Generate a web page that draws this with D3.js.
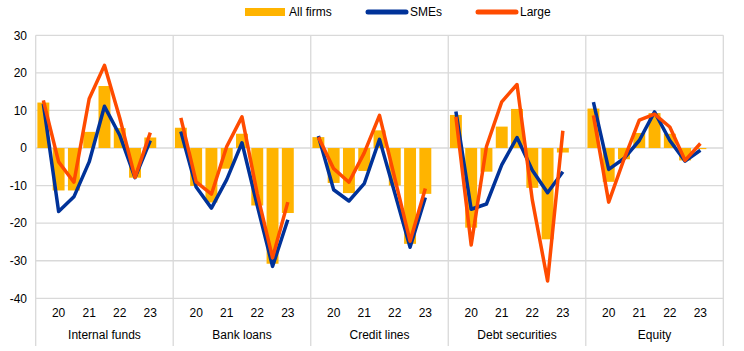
<!DOCTYPE html>
<html>
<head>
<meta charset="utf-8">
<script src="https://cdn.jsdelivr.net/npm/d3@7/dist/d3.min.js"></script>
<style>
  html, body { margin: 0; padding: 0; background: #fff; }
  svg { display: block; font-family: "Liberation Sans", Arial, sans-serif; }
</style>
</head>
<body>
<svg id="chart" width="744" height="351"></svg>
<script>
const categories = ["Internal funds", "Bank loans", "Credit lines", "Debt securities", "Equity"];
const periods = ["19H2", "20H1", "20H2", "21H1", "21H2", "22H1", "22H2", "23H1", "gap"];
const periodLabels = ["", "20", "", "21", "", "22", "", "23", ""];
const yTicks = [30, 20, 10, 0, -10, -20, -30, -40];

const allFirms = [
  [12.1, -11.3, -11.3, 4.3, 16.5, 5.3, -7.9, 2.8],
  [5.4, -10.1, -14.5, -5.5, 3.8, -15.3, -30.8, -17.3],
  [2.9, -9.3, -12.0, -6.1, 4.7, -10.0, -25.5, -12.2],
  [8.8, -21.2, -6.3, 5.7, 10.4, -10.6, -24.3, -1.2],
  [10.5, -9.0, -3.0, 4.0, 9.3, 3.8, -3.3, -0.3]
];
const smes = [
  [11.8, -16.9, -13.0, -3.7, 11.1, 3.4, -7.9, 2.0],
  [4.4, -10.4, -16.0, -8.4, 1.4, -15.3, -31.5, -19.1],
  [3.2, -11.1, -14.1, -9.5, 2.3, -12.0, -26.4, -13.2],
  [9.7, -16.3, -14.9, -4.5, 2.8, -5.9, -11.9, -6.3],
  [12.2, -5.7, -2.8, 2.0, 9.6, 2.0, -3.5, -0.6]
];
const large = [
  [12.7, -3.7, -9.1, 13.1, 22.0, 8.0, -7.8, 4.1],
  [8.0, -9.0, -12.3, 0.4, 8.3, -12.2, -29.2, -14.4],
  [2.9, -5.5, -9.1, -1.3, 8.7, -8.0, -24.8, -10.8],
  [8.3, -25.8, 0.4, 12.3, 16.9, -13.8, -35.4, 4.6],
  [8.7, -14.4, -3.0, 7.4, 9.0, 5.6, -3.3, 1.2]
];
const seriesNames = ["All firms", "SMEs", "Large"];
const colors = { "All firms": "#FFB400", "SMEs": "#003299", "Large": "#FF4B00" };

const svg = d3.select("#chart");
const plot = { left: 35.7, right: 723.3, top: 35.3, bottom: 298.3 };
const grid = "#d9d9d9";

const y = d3.scaleLinear().domain([-40, 30]).range([plot.bottom, plot.top]);
const xPanel = d3.scaleBand().domain(categories).range([plot.left, plot.right]);
const xInner = d3.scaleBand().domain(periods).range([0, xPanel.bandwidth()]).paddingInner(0.22).paddingOuter(0.11);

// horizontal gridlines
svg.append("g").selectAll("line").data(yTicks).join("line")
  .attr("x1", plot.left).attr("x2", plot.right)
  .attr("y1", d => y(d)).attr("y2", d => y(d))
  .attr("stroke", grid).attr("stroke-width", 1.3);

// y tick labels
svg.append("g").selectAll("text").data(yTicks).join("text")
  .attr("x", 27).attr("y", d => y(d)).attr("dy", "0.35em")
  .attr("text-anchor", "end").attr("font-size", 12).attr("fill", "#000")
  .text(d => d);

// vertical panel separators
const seps = [plot.left].concat(categories.map(c => xPanel(c) + xPanel.bandwidth()));
svg.append("g").selectAll("line").data(seps).join("line")
  .attr("x1", d => d).attr("x2", d => d)
  .attr("y1", plot.top).attr("y2", 346)
  .attr("stroke", grid).attr("stroke-width", 1.3);

categories.forEach((cat, ci) => {
  const g = svg.append("g").attr("transform", `translate(${xPanel(cat)},0)`);
  const pts = periods.slice(0, 8);
  // bars
  g.selectAll("rect").data(pts).join("rect")
    .attr("x", p => xInner(p))
    .attr("width", xInner.bandwidth())
    .attr("y", (p, i) => y(Math.max(0, allFirms[ci][i])))
    .attr("height", (p, i) => Math.abs(y(allFirms[ci][i]) - y(0)))
    .attr("fill", colors["All firms"]);
  // lines
  [["SMEs", smes], ["Large", large]].forEach(([name, arr]) => {
    const line = d3.line()
      .x((v, i) => xInner(periods[i]) + xInner.bandwidth() / 2)
      .y(v => y(v));
    g.append("path").datum(arr[ci])
      .attr("d", line)
      .attr("fill", "none")
      .attr("stroke", colors[name])
      .attr("stroke-width", 3.5)
      .attr("stroke-linejoin", "round");
  });
  // period labels
  g.selectAll("text.per").data(periods).join("text").attr("class", "per")
    .attr("x", p => xInner(p) + xInner.bandwidth() / 2)
    .attr("y", 317)
    .attr("text-anchor", "middle").attr("font-size", 12).attr("fill", "#000")
    .text((p, i) => periodLabels[i]);
  // category label
  g.append("text")
    .attr("x", xPanel.bandwidth() / 2).attr("y", 339)
    .attr("text-anchor", "middle").attr("font-size", 12).attr("fill", "#000")
    .text(cat);
});

// legend
const legendX = { "All firms": 245, "SMEs": 366, "Large": 476 };
const lg = svg.append("g");
seriesNames.forEach(name => {
  const x0 = legendX[name];
  if (name === "All firms") {
    lg.append("rect").attr("x", x0).attr("y", 8).attr("width", 40).attr("height", 8)
      .attr("fill", colors[name]);
  } else {
    lg.append("line").attr("x1", x0 + 2).attr("x2", x0 + 40).attr("y1", 12).attr("y2", 12)
      .attr("stroke", colors[name]).attr("stroke-width", 5).attr("stroke-linecap", "round");
  }
  lg.append("text").attr("x", x0 + 44).attr("y", 12).attr("dy", "0.35em")
    .attr("font-size", 12).attr("fill", "#000").text(name);
});
</script>
</body>
</html>
